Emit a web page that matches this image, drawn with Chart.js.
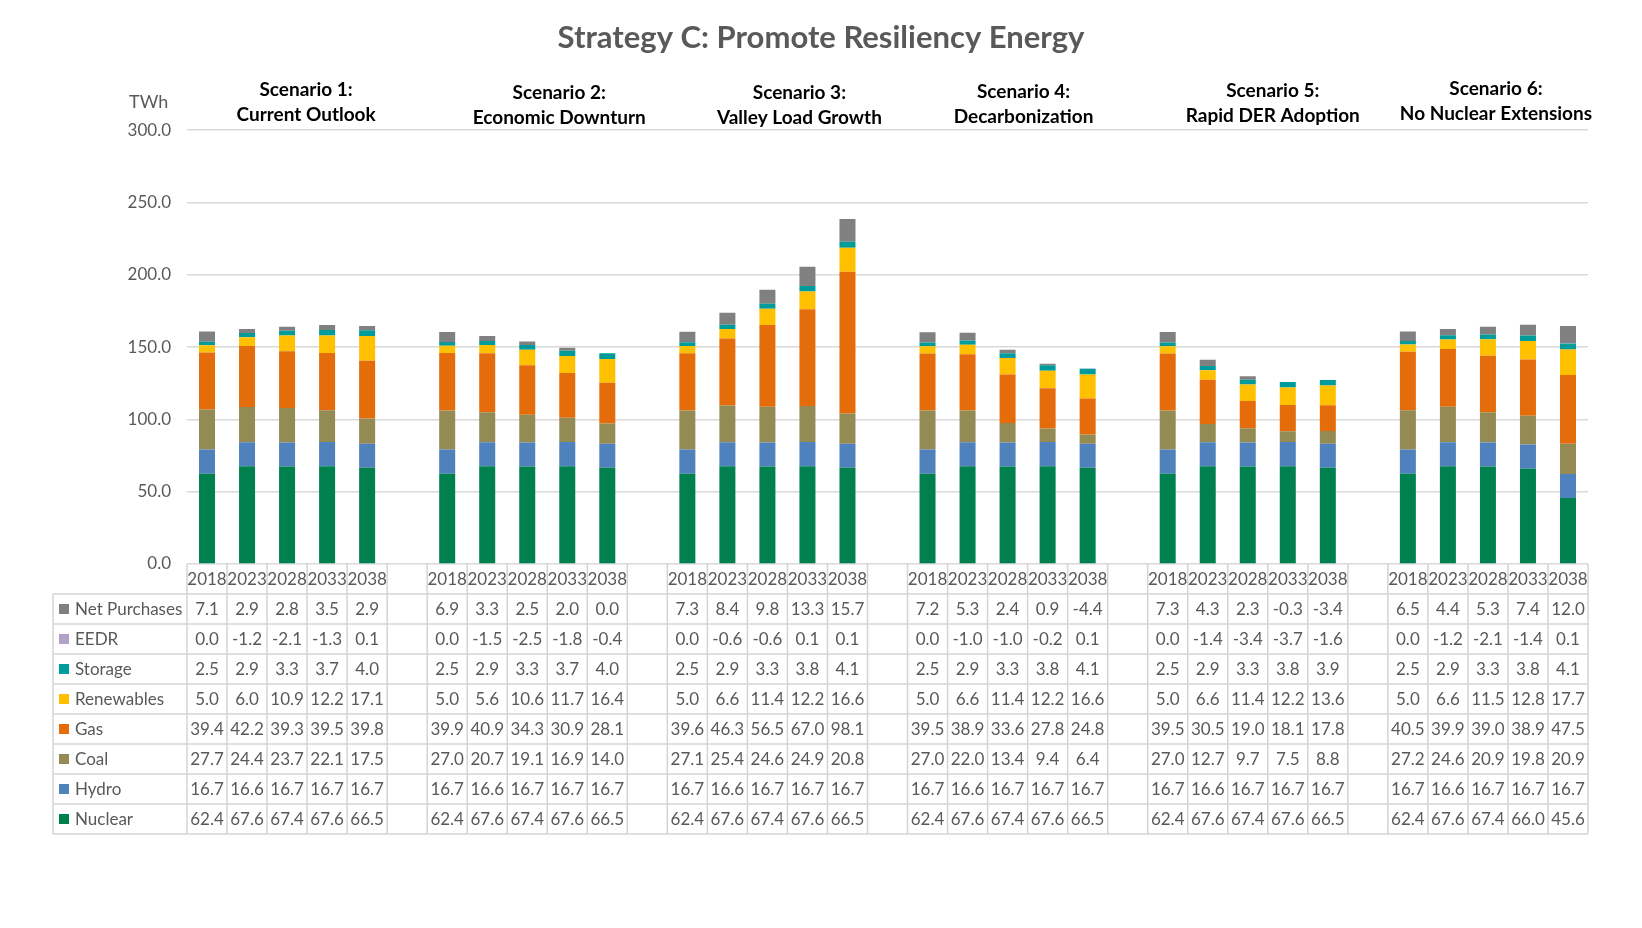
<!DOCTYPE html>
<html>
<head>
<meta charset="utf-8">
<title>Strategy C: Promote Resiliency Energy</title>
<script src="https://cdn.jsdelivr.net/npm/chart.js@4.4.1/dist/chart.umd.min.js"></script>
<style>
  html, body { margin: 0; padding: 0; background: #fff; }
  #wrap { width: 1642px; height: 928px; position: relative; }
</style>
</head>
<body>
<div id="wrap"><canvas id="energyChart"></canvas></div>
<script>
// Tick labels / categories
const years = ["2018", "2023", "2028", "2033", "2038"];
const scenarios = [
  ["Scenario 1:", "Current Outlook"],
  ["Scenario 2:", "Economic Downturn"],
  ["Scenario 3:", "Valley Load Growth"],
  ["Scenario 4:", "Decarbonization"],
  ["Scenario 5:", "Rapid DER Adoption"],
  ["Scenario 6:", "No Nuclear Extensions"]
];

// TWh, five years per scenario (scenario 1 .. 6)
const netPurchases = [7.1, 2.9, 2.8, 3.5, 2.9,   6.9, 3.3, 2.5, 2.0, 0.0,   7.3, 8.4, 9.8, 13.3, 15.7,
                      7.2, 5.3, 2.4, 0.9, -4.4,  7.3, 4.3, 2.3, -0.3, -3.4, 6.5, 4.4, 5.3, 7.4, 12.0];
const eedr         = [0.0, -1.2, -2.1, -1.3, 0.1, 0.0, -1.5, -2.5, -1.8, -0.4, 0.0, -0.6, -0.6, 0.1, 0.1,
                      0.0, -1.0, -1.0, -0.2, 0.1, 0.0, -1.4, -3.4, -3.7, -1.6, 0.0, -1.2, -2.1, -1.4, 0.1];
const storage      = [2.5, 2.9, 3.3, 3.7, 4.0,   2.5, 2.9, 3.3, 3.7, 4.0,   2.5, 2.9, 3.3, 3.8, 4.1,
                      2.5, 2.9, 3.3, 3.8, 4.1,   2.5, 2.9, 3.3, 3.8, 3.9,   2.5, 2.9, 3.3, 3.8, 4.1];
const renewables   = [5.0, 6.0, 10.9, 12.2, 17.1, 5.0, 5.6, 10.6, 11.7, 16.4, 5.0, 6.6, 11.4, 12.2, 16.6,
                      5.0, 6.6, 11.4, 12.2, 16.6, 5.0, 6.6, 11.4, 12.2, 13.6, 5.0, 6.6, 11.5, 12.8, 17.7];
const gas          = [39.4, 42.2, 39.3, 39.5, 39.8, 39.9, 40.9, 34.3, 30.9, 28.1, 39.6, 46.3, 56.5, 67.0, 98.1,
                      39.5, 38.9, 33.6, 27.8, 24.8, 39.5, 30.5, 19.0, 18.1, 17.8, 40.5, 39.9, 39.0, 38.9, 47.5];
const coal         = [27.7, 24.4, 23.7, 22.1, 17.5, 27.0, 20.7, 19.1, 16.9, 14.0, 27.1, 25.4, 24.6, 24.9, 20.8,
                      27.0, 22.0, 13.4, 9.4, 6.4,   27.0, 12.7, 9.7, 7.5, 8.8,    27.2, 24.6, 20.9, 19.8, 20.9];
const hydro        = [16.7, 16.6, 16.7, 16.7, 16.7, 16.7, 16.6, 16.7, 16.7, 16.7, 16.7, 16.6, 16.7, 16.7, 16.7,
                      16.7, 16.6, 16.7, 16.7, 16.7, 16.7, 16.6, 16.7, 16.7, 16.7, 16.7, 16.6, 16.7, 16.7, 16.7];
const nuclear      = [62.4, 67.6, 67.4, 67.6, 66.5, 62.4, 67.6, 67.4, 67.6, 66.5, 62.4, 67.6, 67.4, 67.6, 66.5,
                      62.4, 67.6, 67.4, 67.6, 66.5, 62.4, 67.6, 67.4, 67.6, 66.5, 62.4, 67.6, 67.4, 66.0, 45.6];

const yMax = 300;
const yStep = 50;

// stacking order, bottom first
const series = [
  { label: "Nuclear",       data: nuclear,      color: "#00804f" },
  { label: "Hydro",         data: hydro,        color: "#4f81bd" },
  { label: "Coal",          data: coal,         color: "#948a54" },
  { label: "Gas",           data: gas,          color: "#e46c0a" },
  { label: "Renewables",    data: renewables,   color: "#ffc000" },
  { label: "Storage",       data: storage,      color: "#009b9b" },
  { label: "EEDR",          data: eedr,         color: "#b3a2c7" },
  { label: "Net Purchases", data: netPurchases, color: "#808080" }
];

// a blank column sits between scenarios, like the Excel data table
const labels = [];
scenarios.forEach((s, i) => {
  labels.push(...years);
  if (i < scenarios.length - 1) labels.push("");
});
function spread(values) {
  const out = [];
  scenarios.forEach((s, i) => {
    out.push(...values.slice(i * years.length, (i + 1) * years.length));
    if (i < scenarios.length - 1) out.push(null);
  });
  return out;
}

const FONT = "Lato";
const TEXT = "#595959";

// data table under the plot, drawn against the x scale
const tablePlugin = {
  id: "dataTable",
  afterDraw(chart) {
    const { ctx, chartArea } = chart;
    const x = chart.scales.x;
    const colW = chartArea.width / labels.length;
    const rowH = 30;
    const top = chartArea.bottom;
    const legendLeft = 53;
    const rows = series.slice().reverse();
    const bottom = top + rowH * (rows.length + 1);
    const line = (x1, y1, x2, y2) => { ctx.beginPath(); ctx.moveTo(x1, y1); ctx.lineTo(x2, y2); ctx.stroke(); };

    ctx.save();
    ctx.strokeStyle = "#d4d4d4";
    ctx.lineWidth = 1.5;
    for (let i = 0; i <= labels.length; i++) {
      const px = x.getPixelForValue(i) - colW / 2;
      line(px, top, px, bottom);
    }
    for (let r = 1; r <= rows.length + 1; r++) {
      line(legendLeft, top + r * rowH, chartArea.right, top + r * rowH);
    }
    line(legendLeft, top + rowH, legendLeft, bottom);

    ctx.fillStyle = TEXT;
    ctx.font = `17px ${FONT}`;
    ctx.textAlign = "center";
    ctx.textBaseline = "middle";
    labels.forEach((lab, i) => ctx.fillText(lab, x.getPixelForValue(i), top + rowH / 2 + 1));

    rows.forEach((s, r) => {
      const cy = top + rowH * (r + 1) + rowH / 2 + 1;
      ctx.fillStyle = s.color;
      ctx.fillRect(legendLeft + 6, cy - 6, 10, 10);
      ctx.fillStyle = TEXT;
      ctx.textAlign = "left";
      ctx.fillText(s.label, legendLeft + 22, cy);
      ctx.textAlign = "center";
      spread(s.data).forEach((v, i) => {
        if (v !== null) ctx.fillText(v.toFixed(1), x.getPixelForValue(i), cy);
      });
    });
    ctx.restore();
  }
};

// scenario captions and unit label above the plot
const captionPlugin = {
  id: "captions",
  afterDraw(chart, args, opts) {
    const { ctx } = chart;
    const x = chart.scales.x;
    ctx.save();
    ctx.fillStyle = "#000";
    ctx.font = `bold 19px ${FONT}`;
    ctx.textAlign = "center";
    ctx.textBaseline = "middle";
    scenarios.forEach((lines, g) => {
      const cx = x.getPixelForValue(g * (years.length + 1) + 2) + opts.dx[g];
      const cy = 90 + opts.dy[g];
      ctx.fillText(lines[0], cx, cy);
      ctx.fillText(lines[1], cx, cy + 25);
    });
    ctx.fillStyle = TEXT;
    ctx.font = `18px ${FONT}`;
    ctx.textAlign = "left";
    ctx.fillText("TWh", 129, 102);
    ctx.restore();
  }
};

function draw() {
  new Chart(document.getElementById("energyChart").getContext("2d"), {
    type: "bar",
    data: {
      labels,
      datasets: series.map(s => ({
        label: s.label,
        data: spread(s.data),
        backgroundColor: s.color,
        borderWidth: 0,
        barPercentage: 1.0,
        categoryPercentage: 0.4,
        clip: 0
      }))
    },
    options: {
      responsive: true,
      maintainAspectRatio: false,
      animation: false,
      // equal side padding keeps the title centred on the page
      layout: { padding: { left: 54, right: 54, top: 0, bottom: 364 } },
      plugins: {
        legend: { display: false },
        title: {
          display: true,
          text: "Strategy C: Promote Resiliency Energy",
          color: TEXT,
          font: { family: FONT, size: 31, weight: "bold", lineHeight: 1.2 },
          padding: { top: 19, bottom: 74 }
        },
        captions: {
          dx: [19, 32, 32, 16, 25, 8],
          dy: [0, 3, 3, 2, 1, -1]
        }
      },
      scales: {
        x: {
          display: false,
          stacked: true
        },
        y: {
          stacked: true,
          min: 0,
          max: yMax,
          afterFit(scale) { scale.width = 133; },
          border: { display: false },
          grid: { color: "#d9d9d9", lineWidth: 1.5, drawTicks: false },
          ticks: {
            stepSize: yStep,
            padding: 16,
            color: TEXT,
            font: { family: FONT, size: 17 },
            callback: v => Number(v).toFixed(1)
          }
        }
      }
    },
    plugins: [tablePlugin, captionPlugin]
  });
}

document.addEventListener("DOMContentLoaded", async () => {
  try {
    await Promise.all([
      document.fonts.load(`17px ${FONT}`),
      document.fonts.load(`bold 17px ${FONT}`)
    ]);
  } catch (e) {
    console.error("font load failed", e);
  }
  draw();
});
</script>
</body>
</html>
